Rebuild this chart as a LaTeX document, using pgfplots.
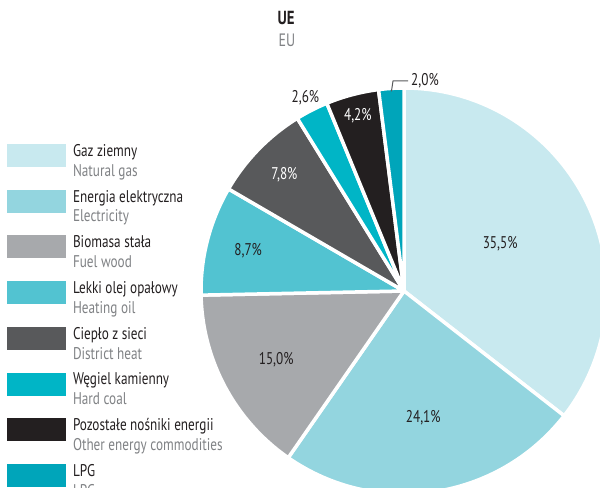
\documentclass[border=0pt]{standalone}
\usepackage{pgfplots}
\usepackage{pgfplotstable}
\pgfplotsset{compat=1.18}
\usepackage{fontspec}
\setmainfont{PT Sans}[FakeStretch=0.78]

\definecolor{cGas}{HTML}{C8E9EF}
\definecolor{cElec}{HTML}{93D5DF}
\definecolor{cWood}{HTML}{A7A9AC}
\definecolor{cOil}{HTML}{52C3D1}
\definecolor{cHeat}{HTML}{58595B}
\definecolor{cCoal}{HTML}{00B5C6}
\definecolor{cOther}{HTML}{231F20}
\definecolor{cLPG}{HTML}{00A5BA}
\definecolor{cDark}{HTML}{231F20}
\definecolor{cGray}{HTML}{808285}

% udzialy (%), kolor, odleglosc etykiety od srodka, kolor etykiety
\pgfplotstableread{
share fill   labr labcol
35.5  cGas   107  cDark
24.1  cElec  128  cDark
15.0  cWood  145  cDark
8.7   cOil   161  cDark
7.8   cHeat  167  white
2.6   cCoal  217  cDark
4.2   cOther 181  white
2.0   cLPG   0    cDark
}\piedata

\begin{document}
\begin{tikzpicture}
\begin{axis}[
    width=600bp, height=487bp, scale only axis,
    xmin=0, xmax=600, ymin=0, ymax=487,
    hide axis, clip=true,
    legend cell align=left,
    legend style={at={(axis cs:7,343)}, anchor=north west,
        draw=none, fill=none, inner sep=0pt, outer sep=0pt,
        row sep=12bp, column sep=7bp,
        nodes={align=left, inner sep=0pt, text=cDark,
            font=\fontsize{17}{20}\selectfont}},
    legend image code/.code={\fill[#1, draw=none] (0bp,-6bp) rectangle (59bp,17bp);},
]
\pgfkeys{/pgf/number format/.cd, fixed, fixed zerofill, precision=1, use comma, assume math mode=true}
\def\angA{90}
\pgfplotsforeachungrouped \i in {0,...,7}{
    \pgfplotstablegetelem{\i}{share}\of\piedata \let\sh\pgfplotsretval
    \pgfplotstablegetelem{\i}{fill}\of\piedata \let\fc\pgfplotsretval
    \pgfplotstablegetelem{\i}{labr}\of\piedata \let\lr\pgfplotsretval
    \pgfplotstablegetelem{\i}{labcol}\of\piedata \let\lc\pgfplotsretval
    \pgfmathsetmacro{\angB}{\angA-360/99.9*\sh}
    \pgfmathsetmacro{\angM}{(\angA+\angB)/2}
    \pgfmathprintnumberto{\sh}{\shtxt}
    \edef\temp{\noexpand\fill[\fc, draw=white, line width=3.5bp, line join=round]
        (axis cs:404,196) -- ++(\angA:203bp) arc[start angle=\angA, end angle=\angB, radius=203bp] -- cycle;}
    \temp
    \ifdim\lr pt>0pt
        \edef\temp{\noexpand\path (axis cs:404,196) ++(\angM:\lr bp)
            node[text=\lc, font=\noexpand\fontsize{17}{20}\noexpand\selectfont] {\shtxt\noexpand\%};}
        \temp
    \fi
    \let\angA\angB
}
% LPG - etykieta z odnosnikiem
\draw[cHeat, line width=1bp] (axis cs:404,196) ++(\angM:200bp) -- (axis cs:393,406) -- (axis cs:408,406);
\node[anchor=west, inner sep=0pt, text=cDark, font=\fontsize{17}{20}\selectfont] at (axis cs:411,406) {\shtxt\%};

\node[text=cDark, font=\bfseries\fontsize{19}{22}\selectfont] at (axis cs:286,469) {UE};
\node[text=cGray, font=\fontsize{18}{22}\selectfont] at (axis cs:287,447) {EU};

\addlegendimage{fill=cGas}  \addlegendentry{Gaz ziemny\\\textcolor{cGray}{Natural gas}}
\addlegendimage{fill=cElec} \addlegendentry{Energia elektryczna\\\textcolor{cGray}{Electricity}}
\addlegendimage{fill=cWood} \addlegendentry{Biomasa stała\\\textcolor{cGray}{Fuel wood}}
\addlegendimage{fill=cOil}  \addlegendentry{Lekki olej opałowy\\\textcolor{cGray}{Heating oil}}
\addlegendimage{fill=cHeat} \addlegendentry{Ciepło z sieci\\\textcolor{cGray}{District heat}}
\addlegendimage{fill=cCoal} \addlegendentry{Węgiel kamienny\\\textcolor{cGray}{Hard coal}}
\addlegendimage{fill=cOther} \addlegendentry{Pozostałe nośniki energii\\\textcolor{cGray}{Other energy commodities}}
\addlegendimage{fill=cLPG}  \addlegendentry{LPG\\\textcolor{cGray}{LPG}}
\end{axis}
\pgfresetboundingbox
\useasboundingbox (current axis.south west) rectangle (current axis.north east);
\end{tikzpicture}
\end{document}
